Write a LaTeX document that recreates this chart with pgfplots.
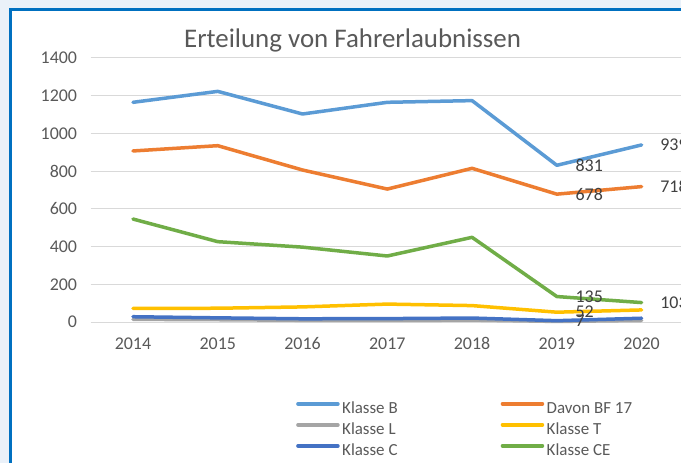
\documentclass[border=0pt]{standalone}
\usepackage{pgfplots}
\pgfplotsset{compat=1.18}
\usepackage{fontspec}
\setmainfont{Carlito}
\definecolor{outerbg}{HTML}{EAF1F9}
\definecolor{frameblue}{HTML}{0070C0}
\definecolor{gridgray}{HTML}{D9D9D9}
\definecolor{tickgray}{HTML}{595959}
\definecolor{labgray}{HTML}{404040}
\definecolor{cB}{HTML}{5B9BD5}
\definecolor{cBF}{HTML}{ED7D31}
\definecolor{cL}{HTML}{A5A5A5}
\definecolor{cT}{HTML}{FFC000}
\definecolor{cC}{HTML}{4472C4}
\definecolor{cCE}{HTML}{70AD47}
\begin{document}
\begin{tikzpicture}
\path[use as bounding box] (0bp,0bp) rectangle (681bp,463bp);
\clip (0bp,0bp) rectangle (681bp,463bp);
\fill[outerbg] (0bp,0bp) rectangle (681bp,463bp);
\filldraw[fill=white, draw=frameblue, line width=3bp] (10bp,-20bp) rectangle (720bp,453bp);
\begin{axis}[
  at={(90.6bp,141bp)}, anchor=south west,
  scale only axis, width=593.4bp, height=264bp,
  xmin=2013.5, xmax=2020.5, ymin=0, ymax=1400,
  xtick={2014,2015,2016,2017,2018,2019,2020},
  ytick={0,200,400,600,800,1000,1200,1400},
  axis line style={draw=none}, major tick length=0pt,
  ymajorgrids, grid style={color=gridgray, line width=1bp},
  tick label style={font=\fontsize{18}{21}\selectfont, text=tickgray},
  /pgf/number format/assume math mode=true,
  /pgf/number format/1000 sep={},
  xticklabel style={yshift=-12bp},
  yticklabel style={xshift=-10bp},
  clip=false,
  title={Erteilung von Fahrerlaubnissen},
  title style={at={(axis description cs:0.4415,1)}, anchor=base, yshift=5bp, font=\fontsize{27}{32}\selectfont, text=tickgray},
  legend columns=2,
  legend cell align=left,
  legend image code/.code={\draw[#1] (0bp,5.5bp) -- (40bp,5.5bp);},
  legend style={draw=none, fill=none, at={(axis description cs:0.3411,-0.2905)}, anchor=north west,
    font=\fontsize{17}{20}\selectfont, text=tickgray,
    nodes={inner sep=1bp, text height=12bp, text depth=3bp},
    row sep=4bp,
    /tikz/every even column/.append style={column sep=102bp},
    /tikz/every odd column/.append style={column sep=1.5bp}},
  every axis plot/.append style={line width=3.5bp, line join=round, line cap=round},
]
\addplot[cB] coordinates {(2014,1165) (2015,1223) (2016,1103) (2017,1165) (2018,1174) (2019,831) (2020,939)};
\addlegendentry{Klasse B}
\addplot[cBF] coordinates {(2014,907) (2015,935) (2016,806) (2017,705) (2018,815) (2019,678) (2020,718)};
\addlegendentry{Davon BF 17}
\addplot[cL] coordinates {(2014,14) (2015,12) (2016,9) (2017,8) (2018,10) (2019,3) (2020,8)};
\addlegendentry{Klasse L}
\addplot[cT] coordinates {(2014,72) (2015,73) (2016,80) (2017,95) (2018,87) (2019,52) (2020,64)};
\addlegendentry{Klasse T}
\addplot[cC] coordinates {(2014,28) (2015,22) (2016,17) (2017,18) (2018,21) (2019,7) (2020,20)};
\addlegendentry{Klasse C}
\addplot[cCE] coordinates {(2014,546) (2015,426) (2016,397) (2017,350) (2018,449) (2019,135) (2020,103)};
\addlegendentry{Klasse CE}
\addplot[draw=none, forget plot, point meta=explicit symbolic, nodes near coords,
  nodes near coords style={anchor=west, inner sep=0pt, xshift=17bp, text=labgray, font=\fontsize{18}{21}\selectfont}]
  coordinates {(2019,831)[831] (2020,939)[939] (2019,678)[678] (2020,718)[718] (2019,135)[135] (2020,103)[103] (2019,52)[52] (2019,7)[7]};
\end{axis}
\end{tikzpicture}
\end{document}
